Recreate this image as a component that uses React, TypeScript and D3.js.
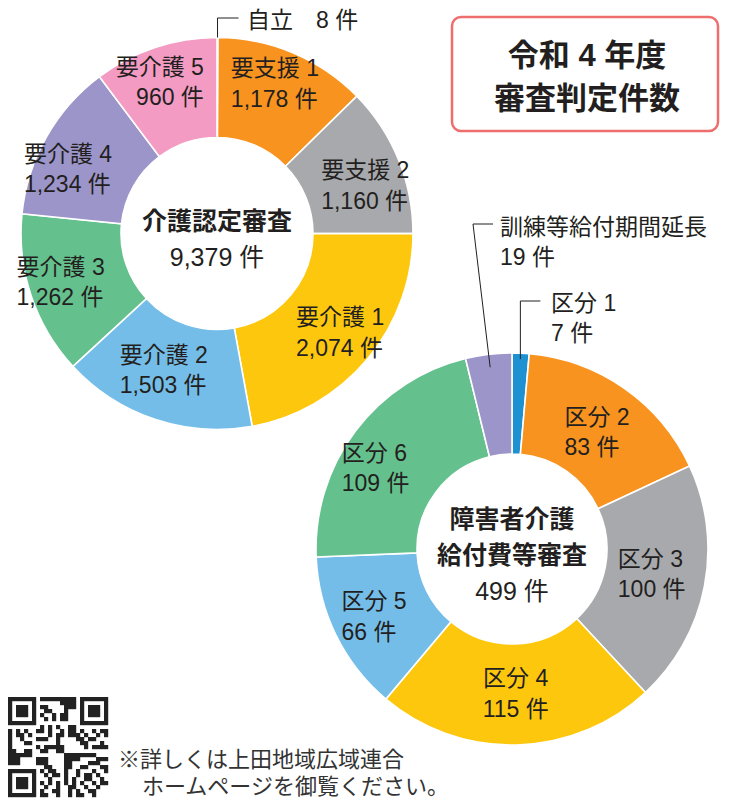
import React from 'react';
import * as d3 from 'd3';

// ---- Data ----
const careCategories = ['自立', '要支援 1', '要支援 2', '要介護 1', '要介護 2', '要介護 3', '要介護 4', '要介護 5'];
const careValues = [8, 1178, 1160, 2074, 1503, 1262, 1234, 960];
const careTitle = '介護認定審査';
const careTotal = '9,379 件';

const disCategories = ['区分 1', '区分 2', '区分 3', '区分 4', '区分 5', '区分 6', '訓練等給付期間延長'];
const disValues = [7, 83, 100, 115, 66, 109, 19];
const disTitle = ['障害者介護', '給付費等審査'];
const disTotal = '499 件';

const titleLines = ['令和 4 年度', '審査判定件数'];
const footerLines = ['※詳しくは上田地域広域連合', 'ホームページを御覧ください。'];

// ---- Styles ----
const careColors = ['#F7931E', '#F7931E', '#A7A9AC', '#FDC70E', '#74BDE8', '#64C18D', '#9C95C9', '#F39BC3'];
const disColors = ['#1E91D2', '#F7931E', '#A7A9AC', '#FDC70E', '#74BDE8', '#64C18D', '#9C95C9'];
const FONT = '"Liberation Sans", "Noto Sans CJK JP", sans-serif';
const TEXT = '#231F20';

// label offsets relative to arc centroid (dx, dy of first baseline, anchor); null = outside label
const careLabelOffsets: any[] = [
  null,
  { dx: -43, dy: -23, anchor: 'start' },
  { dx: -31, dy: 0, anchor: 'start' },
  { dx: -33, dy: -2, anchor: 'start' },
  { dx: -51, dy: -9, anchor: 'start' },
  { dx: -62, dy: -5, anchor: 'start' },
  { dx: -66, dy: 0, anchor: 'start' },
  { dx: 33, dy: -20, anchor: 'end' },
];
const disLabelOffsets: any[] = [
  null,
  { dx: -31, dy: -5, anchor: 'start' },
  { dx: -37, dy: -10, anchor: 'start' },
  { dx: 0, dy: -8, anchor: 'middle' },
  { dx: -40, dy: -4, anchor: 'start' },
  { dx: -54, dy: -1, anchor: 'start' },
  null,
];

const fmt = d3.format(',');

function Donut({ cx, cy, inner, outer, values, colors, categories, offsets }: any) {
  const pie = d3.pie<number>().sort(null).startAngle(0).endAngle(2 * Math.PI);
  const arcs = pie(values);
  const arc = d3.arc<any>().innerRadius(inner).outerRadius(outer);
  const mid = d3.arc<any>().innerRadius((inner + outer) / 2).outerRadius((inner + outer) / 2);
  return (
    <g transform={`translate(${cx},${cy})`}>
      {arcs.map((a, i) => (
        <path key={i} d={arc(a) as string} fill={colors[i]} stroke="#fff" strokeWidth={1.6} />
      ))}
      {arcs.map((a, i) => {
        const o = offsets[i];
        if (!o) return null;
        const [x, y] = mid.centroid(a);
        return (
          <g key={'l' + i}>
            <text x={x + o.dx} y={y + o.dy} textAnchor={o.anchor} fontSize={23} fill={TEXT}>{categories[i]}</text>
            <text x={x + o.dx} y={y + o.dy + 30.5} textAnchor={o.anchor} fontSize={23} fill={TEXT}>{fmt(values[i])} 件</text>
          </g>
        );
      })}
    </g>
  );
}

function QR({ x, y, size }: any) {
  const n = 25;
  const m = size / n;
  const cells: any[] = [];
  const finder = (r: number, c: number) => {
    const corners = [[0, 0], [0, n - 7], [n - 7, 0]];
    for (const [fr, fc] of corners) {
      if (r >= fr && r < fr + 7 && c >= fc && c < fc + 7) {
        const rr = r - fr, cc = c - fc;
        const ring = Math.min(rr, cc, 6 - rr, 6 - cc);
        return ring === 0 || ring >= 2 ? 1 : 0;
      }
      if (r >= fr - 1 && r <= fr + 7 && c >= fc - 1 && c <= fc + 7) return 0;
    }
    return -1;
  };
  for (let r = 0; r < n; r++) {
    for (let c = 0; c < n; c++) {
      let v = finder(r, c);
      if (v < 0) v = ((r * 37 + c * 23 + r * c * 11 + (r ^ c) * 5) % 7) < 3 ? 1 : 0;
      if (v) cells.push(<rect key={r + '-' + c} x={x + c * m} y={y + r * m} width={m + 0.2} height={m + 0.2} fill="#222" />);
    }
  }
  return <g>{cells}</g>;
}

export default function App() {
  const c1 = { cx: 217, cy: 233.5, inner: 96, outer: 196 };
  const c2 = { cx: 512, cy: 549, inner: 95, outer: 196 };

  const pie1 = d3.pie<number>().sort(null)(careValues);
  const a0 = (pie1[0].startAngle + pie1[0].endAngle) / 2;
  const p1 = [c1.cx + c1.outer * Math.sin(a0), c1.cy - c1.outer * Math.cos(a0)];

  const pie2 = d3.pie<number>().sort(null)(disValues);
  const b0 = (pie2[0].startAngle + pie2[0].endAngle) / 2;
  const q1 = [c2.cx + 190 * Math.sin(b0), c2.cy - 190 * Math.cos(b0)];
  const b6 = (pie2[6].startAngle + pie2[6].endAngle) / 2;
  const q6 = [c2.cx + 183 * Math.sin(b6), c2.cy - 183 * Math.cos(b6)];

  return (
    <svg width={733} height={800} style={{ position: 'absolute', left: 0, top: 0, background: '#fff' }} fontFamily={FONT}>
      <rect width={733} height={800} fill="#fff" />
      <Donut {...c1} values={careValues} colors={careColors} categories={careCategories} offsets={careLabelOffsets} />
      <Donut {...c2} values={disValues} colors={disColors} categories={disCategories} offsets={disLabelOffsets} />

      {/* center texts */}
      <text x={c1.cx} y={c1.cy - 4} textAnchor="middle" fontSize={25} fontWeight={700} fill={TEXT}>{careTitle}</text>
      <text x={c1.cx} y={c1.cy + 32} textAnchor="middle" fontSize={25} fill={TEXT}>{careTotal}</text>
      <text x={c2.cx} y={c2.cy - 21} textAnchor="middle" fontSize={25} fontWeight={700} fill={TEXT}>{disTitle[0]}</text>
      <text x={c2.cx} y={c2.cy + 15} textAnchor="middle" fontSize={25} fontWeight={700} fill={TEXT}>{disTitle[1]}</text>
      <text x={c2.cx} y={c2.cy + 51} textAnchor="middle" fontSize={25} fill={TEXT}>{disTotal}</text>

      {/* leader: 自立 */}
      <polyline points={`${p1[0]},${p1[1]} ${p1[0]},18 ${p1[0] + 21},18`} fill="none" stroke={TEXT} strokeWidth={1} />
      <text x={247} y={28} fontSize={23} fill={TEXT}>{careCategories[0]}　{fmt(careValues[0])} 件</text>

      {/* leader: 区分1 */}
      <polyline points={`${q1[0]},${q1[1]} ${q1[0]},301 ${q1[0] + 20},301`} fill="none" stroke={TEXT} strokeWidth={1} />
      <text x={551} y={311} fontSize={23} fill={TEXT}>{disCategories[0]}</text>
      <text x={551} y={341} fontSize={23} fill={TEXT}>{fmt(disValues[0])} 件</text>

      {/* leader: 訓練等給付期間延長 */}
      <polyline points={`${q6[0]},${q6[1]} 473,224 493,224`} fill="none" stroke={TEXT} strokeWidth={1} />
      <text x={500} y={235} fontSize={23} fill={TEXT}>{disCategories[6]}</text>
      <text x={500} y={265} fontSize={23} fill={TEXT}>{fmt(disValues[6])} 件</text>

      {/* title box */}
      <rect x={452} y={17} width={266} height={114} rx={9} fill="#fff" stroke="#EE6E6E" strokeWidth={2.5} />
      <text x={587} y={66} textAnchor="middle" fontSize={31} fontWeight={700} fill={TEXT}>{titleLines[0]}</text>
      <text x={587} y={109} textAnchor="middle" fontSize={31} fontWeight={700} fill={TEXT}>{titleLines[1]}</text>

      {/* footer */}
      <QR x={8} y={697} size={100} />
      <text x={118} y={767} fontSize={22} fill="#333">{footerLines[0]}</text>
      <text x={142} y={794} fontSize={22} fill="#333">{footerLines[1]}</text>
    </svg>
  );
}
